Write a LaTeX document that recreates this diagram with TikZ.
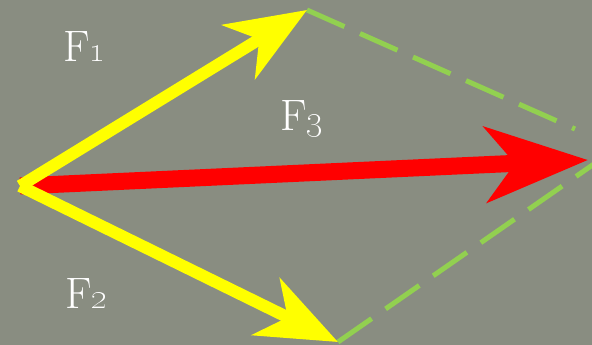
\documentclass[tikz,border=0pt]{standalone}
\usepackage{tikz}
\usetikzlibrary{arrows.meta}
\definecolor{boardgrey}{RGB}{137,141,129}
\definecolor{forceyellow}{RGB}{255,255,0}
\definecolor{forcered}{RGB}{255,0,0}
\definecolor{guidegreen}{RGB}{146,208,80}
\tikzset{
  force/.style={line width=12pt, draw=forceyellow, -{Stealth[length=80pt, width=63pt, inset=24pt]}},
  resultant/.style={line width=17pt, draw=forcered, -{Stealth[length=102pt, width=75pt, inset=29pt]}},
  guide/.style={line width=5pt, draw=guidegreen, dash pattern=on 41pt off 17pt},
  flabel/.style={text=white, anchor=base west, inner sep=0pt, font=\fontsize{44}{44}\selectfont},
}
\newcommand{\fnum}[1]{F\oldstylenums{#1}}

\begin{document}
\begin{tikzpicture}[x=1pt, y=-1pt]
  % background board
  \fill[boardgrey] (0,0) rectangle (592,345);
  \useasboundingbox (0,0) rectangle (592,345);
  \clip (0,0) rectangle (592,345);

  % points
  \coordinate (o) at (20,186);
  \coordinate (t1) at (307,10);
  \coordinate (t2) at (338,342);
  \coordinate (t3) at (588,160);
  \coordinate (e1) at (575,129);
  \coordinate (e2) at (604,157);

  % parallelogram guides
  \draw[guide] (t1) -- (e1);
  \draw[guide] (t2) -- (e2);

  % forces
  \draw[resultant] (o) -- (t3);
  \draw[force] (o) -- (t1);
  \draw[force] (o) -- (t2);

  % labels
  \node[flabel] (f1lbl) at (63,62) {\fnum{1}};
  \node[flabel] (f2lbl) at (65,308) {\fnum{2}};
  \node[flabel] (f3lbl) at (280,130) {\fnum{3}};
\end{tikzpicture}
\end{document}
